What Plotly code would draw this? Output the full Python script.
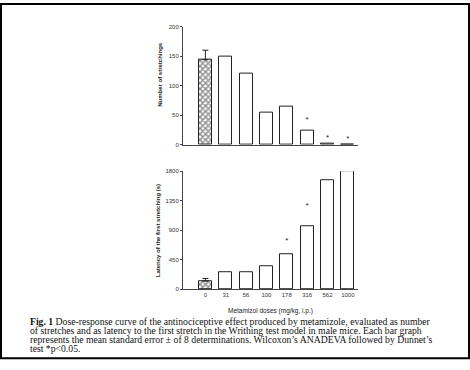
import plotly.graph_objects as go

doses = ["0", "31", "56", "100", "178", "316", "562", "1000"]
stretch_counts = [144, 150, 121, 54, 64, 23, 1, 0]
stretch_err = [16, 0, 0, 0, 0, 0, 0, 0]
latency_s = [125, 255, 265, 355, 540, 965, 1660, 1800]
latency_err = [40, 0, 0, 0, 0, 0, 0, 0]
stretch_star_x = [5, 6, 7]
stretch_star_y = [42, 12, 9]
latency_star_x = [4, 5, 6, 7]
latency_star_y = [730, 1265, 1890, 1890]
upper_ticks = [0, 50, 100, 150, 200]
lower_ticks = [0, 450, 900, 1350, 1800]

W, H = 470, 370
xpos = list(range(len(doses)))

def px_x(v):
    return v / W

def px_y(v):
    return 1 - v / H

patterns = ["x"] + [""] * (len(doses) - 1)

fig = go.Figure()
for vals, errs, xa, ya in [(stretch_counts, stretch_err, "x", "y"),
                           (latency_s, latency_err, "x2", "y2")]:
    fig.add_trace(go.Bar(
        x=xpos, y=vals, width=0.64,
        marker=dict(color="white", line=dict(color="#222", width=1),
                    pattern=dict(shape=patterns, fgcolor="#1a1a1a", bgcolor="white",
                                 size=4, solidity=0.6)),
        xaxis=xa, yaxis=ya, showlegend=False, hoverinfo="skip"))
    ex = [x for x, e in zip(xpos, errs) if e]
    ey = [v for v, e in zip(vals, errs) if e]
    ee = [e for e in errs if e]
    fig.add_trace(go.Scatter(
        x=ex, y=ey, mode="markers", marker=dict(size=1, opacity=0),
        error_y=dict(type="data", array=ee, arrayminus=[0] * len(ee), symmetric=False,
                     color="#222", thickness=1, width=3),
        xaxis=xa, yaxis=ya, showlegend=False, hoverinfo="skip"))

fig.add_trace(go.Scatter(
    x=stretch_star_x, y=stretch_star_y, mode="text", text=["*"] * len(stretch_star_x),
    textfont=dict(family="Liberation Sans", size=8, color="#222"),
    xaxis="x", yaxis="y", showlegend=False))
fig.add_trace(go.Scatter(
    x=latency_star_x, y=latency_star_y, mode="text", text=["*"] * len(latency_star_x),
    textfont=dict(family="Liberation Sans", size=8, color="#222"),
    xaxis="x2", yaxis="y2", showlegend=False))

xdom = [px_x(183), px_x(358)]
tickfont = dict(family="Liberation Sans", size=6, color="#333")
fig.update_layout(
    width=W, height=H, margin=dict(l=0, r=0, t=0, b=0),
    paper_bgcolor="white", plot_bgcolor="white",
    bargap=0,
    xaxis=dict(domain=xdom, anchor="y", range=[-1.1, 7.5], showticklabels=False,
               ticks="", showline=True, linecolor="#444", linewidth=1, showgrid=False,
               zeroline=False),
    yaxis=dict(domain=[px_y(144), px_y(24)], anchor="x", range=[0, 200],
               tickvals=upper_ticks, ticks="outside", ticklen=2, tickcolor="#444",
               tickfont=tickfont, showline=True, linecolor="#444", linewidth=1,
               showgrid=False, zeroline=False),
    xaxis2=dict(domain=xdom, anchor="y2", range=[-1.1, 7.5], tickvals=xpos, ticktext=doses,
                ticks="", tickfont=tickfont, showline=True, linecolor="#444", linewidth=1,
                showgrid=False, zeroline=False),
    yaxis2=dict(domain=[px_y(291), px_y(171)], anchor="x2", range=[0, 1800],
                tickvals=lower_ticks, ticks="outside", ticklen=2, tickcolor="#444",
                tickfont=tickfont, showline=True, linecolor="#444", linewidth=1,
                showgrid=False, zeroline=False),
)

annotations = [
    dict(text="<b>Number of stretchings</b>", x=px_x(160), y=px_y(73), textangle=-90,
         font=dict(family="Liberation Sans", size=6, color="#222")),
    dict(text="<b>Latency of the first stretching (s)</b>", x=px_x(157.5), y=px_y(231.5),
         textangle=-90, font=dict(family="Liberation Sans", size=6, color="#222")),
    dict(text="Metamizol doses (mg/kg, i.p.)", x=px_x(270), y=px_y(313),
         font=dict(family="Liberation Sans", size=6.5, color="#222")),
]
caption = [
    "<b>Fig. 1</b> Dose-response curve of the antinociceptive effect produced by metamizole, evaluated as number",
    "of stretches and as latency to the first stretch in the Writhing test model in male mice. Each bar graph",
    "represents the mean standard error \u00b1 of 8 determinations. Wilcoxon\u2019s ANADEVA followed by Dunnet\u2019s",
    "test *p<0.05.",
]
for i, line in enumerate(caption):
    annotations.append(dict(text=line, x=px_x(28), y=px_y(324 + 9.2 * i), xanchor="left",
                            font=dict(family="Liberation Serif", size=9.7, color="#111")))
for a in annotations:
    a.setdefault("xanchor", "center")
    a.update(xref="paper", yref="paper", yanchor="middle", showarrow=False)
fig.update_layout(annotations=annotations)

fig.add_shape(type="rect", xref="paper", yref="paper",
              x0=px_x(1), x1=px_x(469), y0=px_y(361), y1=px_y(1),
              line=dict(color="black", width=2))

fig.write_html("out.html", config={"displayModeBar": False},
               post_script="document.body.style.margin='0';document.body.style.overflow='hidden';")
